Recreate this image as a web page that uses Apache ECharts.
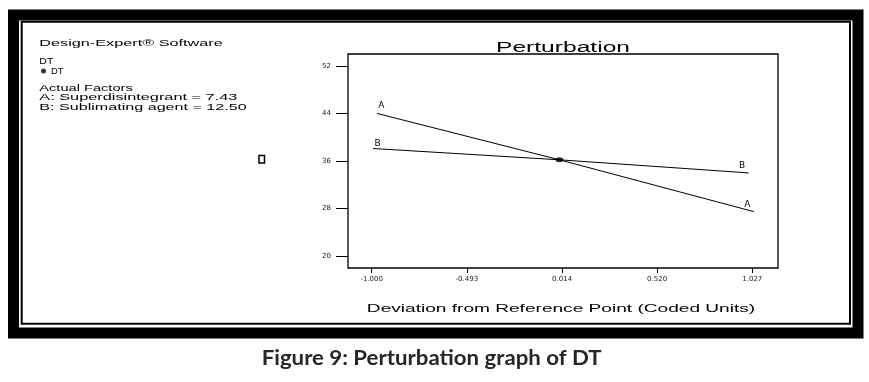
<!DOCTYPE html>
<html>
<head>
<meta charset="utf-8">
<script src="https://cdn.jsdelivr.net/npm/echarts@6/dist/echarts.min.js"></script>
<style>
  html, body { margin: 0; padding: 0; background: #ffffff; }
  #chart { width: 869px; height: 382px; }
</style>
</head>
<body>
<div id="chart"></div>
<script>
// ---- data ----
const xTicks = [-1.000, -0.493, 0.014, 0.520, 1.027];
const yTicks = [20, 28, 36, 44, 52];
const factorAx = [-0.97, 0.0, 1.032];
const factorAy = [44.0, 36.2, 27.5];
const factorBx = [-0.99, 0.0, 1.005];
const factorBy = [38.1, 36.2, 34.0];
const refPoint = [0.0, 36.2];
const infoLines = ["Design-Expert\u00AE Software", "DT", "Actual Factors",
                   "A: Superdisintegrant = 7.43", "B: Sublimating agent = 12.50"];
const chartTitle = "Perturbation";
const xAxisTitle = "Deviation from Reference Point (Coded Units)";
const caption = "Figure 9: Perturbation graph of DT";

// ---- helpers ----
const mctx = document.createElement('canvas').getContext('2d');
function fit(text, font, width) { mctx.font = font; return width / mctx.measureText(text).width; }
function stretchedText(text, font, x, y, width, align, fill) {
  return {
    type: 'text', x: x, y: y, scaleX: fit(text, font, width), silent: true,
    style: { text: text, font: font, fill: fill || '#000',
             align: align || 'left', textAlign: align || 'left',
             verticalAlign: 'middle', textVerticalAlign: 'middle' }
  };
}
function lineData(xs, ys, startOff, endOff) {
  return xs.map((x, i) => {
    const item = { value: [x, ys[i]] };
    if (i === 0) item.label = { show: true, position: 'top', distance: 0, offset: startOff };
    if (i === xs.length - 1) item.label = { show: true, position: 'top', distance: 0, offset: endOff };
    return item;
  });
}

const infoFont = '9.3px "Liberation Sans", Arial, sans-serif';
const lineLabel = { show: false, formatter: '{a}', color: '#000',
                    fontFamily: 'DejaVu Sans', fontSize: 9 };

const chart = echarts.init(document.getElementById('chart'), null, { renderer: 'canvas' });
chart.setOption({
  animation: false,
  backgroundColor: '#ffffff',
  grid: { left: 348, top: 54, width: 430, height: 214, containLabel: false, outerBoundsMode: 'none',
          show: true, borderColor: '#000', borderWidth: 1.3, backgroundColor: 'transparent' },
  legend: {
    data: [{ name: 'DT', icon: 'circle' }], left: 36, top: 61, padding: 5,
    itemWidth: 5, itemHeight: 5, itemGap: 4, selectedMode: false,
    textStyle: { color: '#000', fontFamily: '"Liberation Sans", Arial', fontSize: 9.5 }
  },
  xAxis: {
    type: 'value', min: -1.126, max: 1.164,
    splitLine: { show: false },
    axisLine: { show: false, onZero: false },
    axisTick: { show: true, length: 5, customValues: xTicks, lineStyle: { color: '#000', width: 1 } },
    axisLabel: { customValues: xTicks, margin: 8, color: '#222', fontFamily: 'DejaVu Sans', fontSize: 7,
                 formatter: v => v.toFixed(3) }
  },
  yAxis: {
    type: 'value', min: 17.98, max: 54.02,
    splitLine: { show: false },
    axisLine: { show: false, onZero: false },
    axisTick: { show: true, length: 12, customValues: yTicks, lineStyle: { color: '#000', width: 1 } },
    axisLabel: { customValues: yTicks, margin: 17, color: '#222', fontFamily: 'DejaVu Sans', fontSize: 7 }
  },
  series: [
    { name: 'A', type: 'line', data: lineData(factorAx, factorAy, [4, -3], [-6, -2]),
      symbol: 'circle', symbolSize: 1, showSymbol: true, itemStyle: { color: '#000' },
      lineStyle: { color: '#000', width: 1 }, label: lineLabel, emphasis: { disabled: true } },
    { name: 'B', type: 'line', data: lineData(factorBx, factorBy, [4, 0], [-6, -2]),
      symbol: 'circle', symbolSize: 1, showSymbol: true, itemStyle: { color: '#000' },
      lineStyle: { color: '#000', width: 1 }, label: lineLabel, emphasis: { disabled: true } },
    { name: 'DT', type: 'scatter', data: [refPoint], symbol: 'circle', symbolSize: [8, 5],
      itemStyle: { color: '#000' }, emphasis: { disabled: true }, z: 5 }
  ],
  graphic: [
    // frame
    { type: 'rect', silent: true, shape: { x: 13.5, y: 15, width: 844.5, height: 318 },
      style: { fill: 'none', stroke: '#000', lineWidth: 11 } },
    { type: 'rect', silent: true, shape: { x: 21.7, y: 21.7, width: 828.3, height: 302 },
      style: { fill: 'none', stroke: '#000', lineWidth: 2 } },
    // small artifact glyph
    { type: 'rect', silent: true, shape: { x: 259, y: 155.5, width: 5.5, height: 7.5 },
      style: { fill: 'none', stroke: '#000', lineWidth: 1.5 } },
    // left info texts
    stretchedText(infoLines[0], infoFont, 39.3, 43.3, 183.4),
    stretchedText(infoLines[1], infoFont, 39.3, 61.8, 14),
    stretchedText(infoLines[2], infoFont, 39.3, 88.5, 93.4),
    stretchedText(infoLines[3], infoFont, 39.3, 97.8, 198),
    stretchedText(infoLines[4], infoFont, 39.3, 107.2, 207.4),
    // title
    stretchedText(chartTitle, '14px "Liberation Sans", Arial, sans-serif', 563, 48.3, 134, 'center'),
    // x axis title
    stretchedText(xAxisTitle, '11.5px "Liberation Sans", Arial, sans-serif', 561, 309.2, 388.3, 'center'),
    // caption
    stretchedText(caption, 'bold 20px Lato, "Open Sans", sans-serif', 431.7, 358.2, 340, 'center', '#262626')
  ]
});
</script>
</body>
</html>
